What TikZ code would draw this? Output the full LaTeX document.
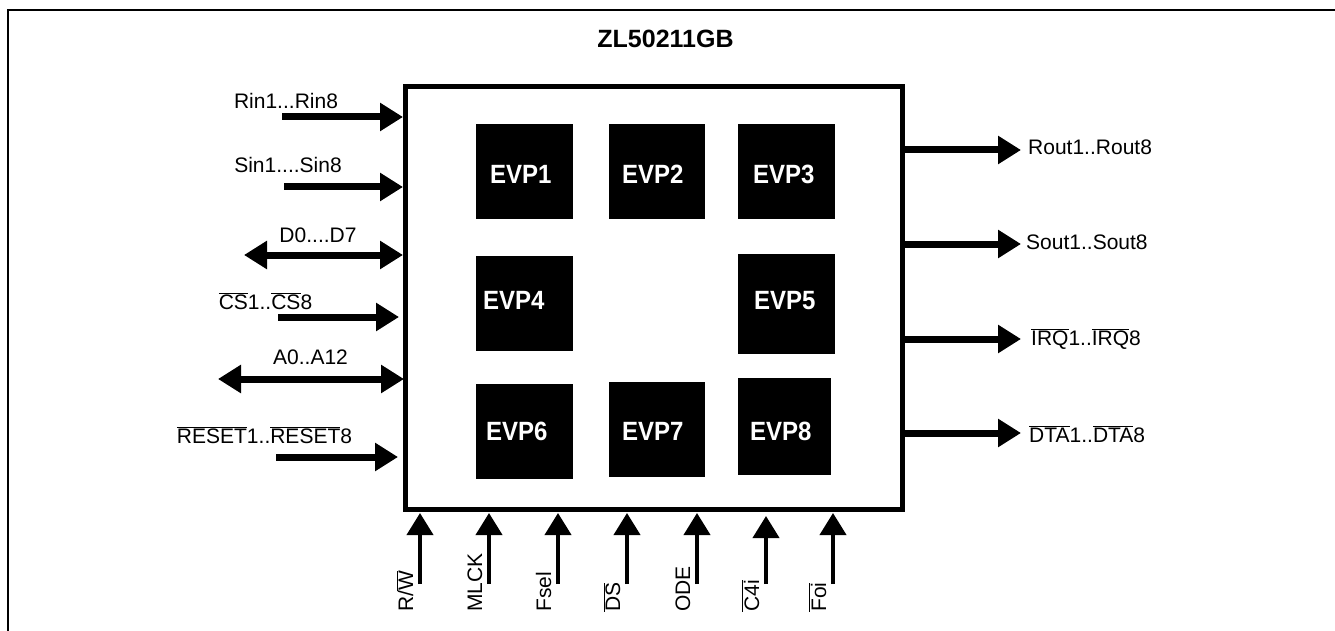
\documentclass[tikz,border=0pt]{standalone}
\usepackage{fontspec}
\setmainfont{Liberation Sans}
\usetikzlibrary{arrows.meta}
\newcommand{\ovl}[1]{$\overline{\mbox{#1}}$}
\newcommand{\evplab}[1]{\scalebox{1}[1.1]{#1}}
\begin{document}
\begin{tikzpicture}[x=1pt,y=-1pt,
  frame/.style={line width=2pt},
  chipbox/.style={draw, line width=5pt, inner sep=0pt, outer sep=0pt},
  evpbox/.style={fill=black, inner sep=0pt, outer sep=0pt},
  evptext/.style={text=white, font=\fontsize{24}{28}\selectfont\bfseries, inner sep=0pt, anchor=base west},
  sig/.style={font=\fontsize{21}{25}\selectfont, inner sep=0pt},
  bus/.style={line width=7pt, -{Triangle[length=23pt,width=27pt]}},
  bibus/.style={line width=7pt, {Triangle[length=23pt,width=27pt]}-{Triangle[length=23pt,width=27pt]}},
  ctl/.style={line width=4pt, -{Triangle[length=22pt,width=26pt]}},
  ctltext/.style={font=\fontsize{21}{25}\selectfont, rotate=90, anchor=base west, inner sep=0pt},
]
\useasboundingbox (0,0) rectangle (1335,631);
% outer frame
\draw[frame] (8,631) -- (8,10) -- (1335,10);
% title
\node[font=\fontsize{25}{30}\selectfont\bfseries, anchor=base, inner sep=0pt] (title) at (665.5,48) {ZL50211GB};
% chip
\node[chipbox, minimum width=497pt, minimum height=422pt] (chip) at (653.5,298) {};
% EVP blocks
\node[evpbox, minimum width=97pt, minimum height=95pt] (e1) at (524.5,171.5) {};
\node[evpbox, minimum width=96pt, minimum height=95pt] (e2) at (657,171.5) {};
\node[evpbox, minimum width=97pt, minimum height=95pt] (e3) at (786.5,171.5) {};
\node[evpbox, minimum width=97pt, minimum height=95pt] (e4) at (524.5,303.5) {};
\node[evpbox, minimum width=97pt, minimum height=100pt] (e5) at (786.5,304) {};
\node[evpbox, minimum width=97pt, minimum height=95pt] (e6) at (524.5,431.5) {};
\node[evpbox, minimum width=96pt, minimum height=95pt] (e7) at (657,429.5) {};
\node[evpbox, minimum width=93pt, minimum height=97pt] (e8) at (784.5,426.5) {};
\node[evptext] (t1) at (490,184) {\evplab{EVP1}};
\node[evptext] (t2) at (622,184) {\evplab{EVP2}};
\node[evptext] (t3) at (753,184) {\evplab{EVP3}};
\node[evptext] (t4) at (483,309) {\evplab{EVP4}};
\node[evptext] (t5) at (754,309) {\evplab{EVP5}};
\node[evptext] (t6) at (486,440) {\evplab{EVP6}};
\node[evptext] (t7) at (622,440) {\evplab{EVP7}};
\node[evptext] (t8) at (750,440) {\evplab{EVP8}};
% left side
\coordinate (rinS) at (282,117);
\coordinate (sinS) at (284,187);
\coordinate (dS) at (244,255);
\coordinate (csS) at (278,317);
\coordinate (aS) at (218,379);
\coordinate (rstS) at (276,457);
\draw[bus, shorten >=2pt] (rinS) -- (rinS -| chip.west);
\draw[bus, shorten >=2pt] (sinS) -- (sinS -| chip.west);
\draw[bibus, shorten >=2pt] (dS) -- (dS -| chip.west);
\draw[bus, shorten >=6pt] (csS) -- (csS -| chip.west);
\draw[bibus, shorten >=1pt] (aS) -- (aS -| chip.west);
\draw[bus, shorten >=7pt] (rstS) -- (rstS -| chip.west);
\node[sig, anchor=base] (lrin) at (286,109) {Rin1...Rin8};
\node[sig, anchor=base] (lsin) at (288,172.7) {Sin1....Sin8};
\node[sig, anchor=base] (ld) at (318,242.7) {D0....D7};
\node[sig, anchor=base] (lcs) at (265.5,309) {\ovl{CS}1..\ovl{CS}8};
\node[sig, anchor=base] (la) at (310.5,364) {A0..A12};
\node[sig, anchor=base] (lrst) at (264.5,443) {\ovl{RESET}1..\ovl{RESET}8};
% right side
\coordinate (routE) at (1021,150);
\coordinate (soutE) at (1021,244);
\coordinate (irqE) at (1021,339);
\coordinate (dtaE) at (1021,433);
\draw[bus] (routE -| chip.east) -- (routE);
\draw[bus] (soutE -| chip.east) -- (soutE);
\draw[bus] (irqE -| chip.east) -- (irqE);
\draw[bus] (dtaE -| chip.east) -- (dtaE);
\node[sig, anchor=base west] (lrout) at (1028,155) {Rout1..Rout8};
\node[sig, anchor=base west] (lsout) at (1026,249) {Sout1..Sout8};
\node[sig, anchor=base west] (lirq) at (1031,345) {\ovl{IRQ}1..\ovl{IRQ}8};
\node[sig, anchor=base west] (ldta) at (1029,442) {\ovl{DTA}1..\ovl{DTA}8};
% bottom
\coordinate (rwS) at (420,584);
\coordinate (mlckS) at (489,584);
\coordinate (fselS) at (558,584);
\coordinate (dsS) at (627,584);
\coordinate (odeS) at (697,584);
\coordinate (c4iS) at (766,584);
\coordinate (foiS) at (833,584);
\draw[ctl, shorten >=4pt] (rwS) -- (rwS |- chip.south);
\draw[ctl, shorten >=4pt] (mlckS) -- (mlckS |- chip.south);
\draw[ctl, shorten >=4pt] (fselS) -- (fselS |- chip.south);
\draw[ctl, shorten >=4pt] (dsS) -- (dsS |- chip.south);
\draw[ctl, shorten >=4pt] (odeS) -- (odeS |- chip.south);
\draw[ctl, shorten >=7pt] (c4iS) -- (c4iS |- chip.south);
\draw[ctl, shorten >=4pt] (foiS) -- (foiS |- chip.south);
\node[ctltext] (lrw) at (413,612) {R/\ovl{W}};
\node[ctltext] (lmlck) at (482,612) {MLCK};
\node[ctltext] (lfsel) at (551,612) {Fsel};
\node[ctltext] (lds) at (620,612) {\ovl{DS}};
\node[ctltext] (lode) at (690,612) {ODE};
\node[ctltext] (lc4i) at (759,612) {\ovl{C4i}};
\node[ctltext] (lfoi) at (826,612) {\ovl{Foi}};
\end{tikzpicture}
\end{document}
